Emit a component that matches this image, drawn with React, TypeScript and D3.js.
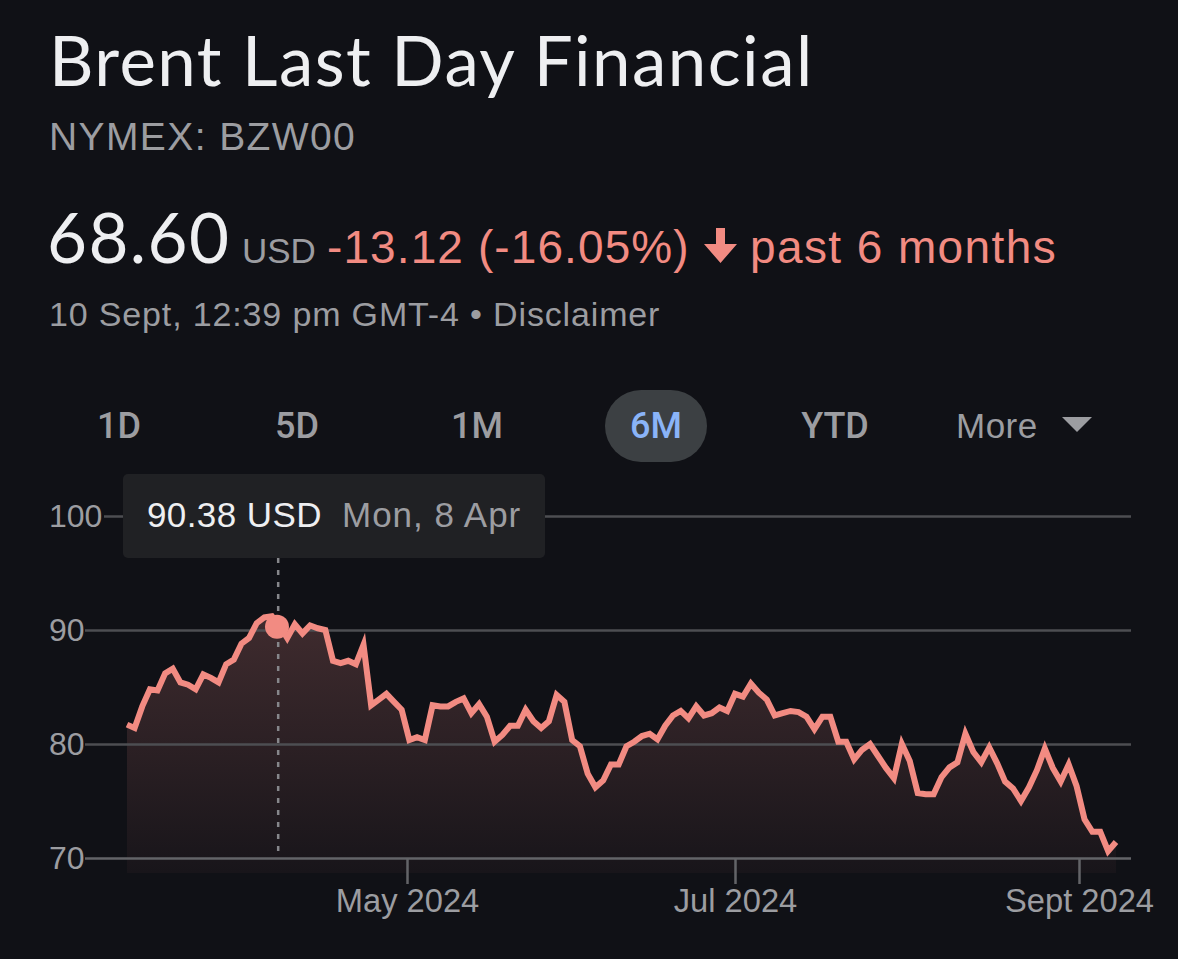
import { useEffect, useRef } from "react";
import * as d3 from "d3";

// closing prices, one per trading day
const prices = [
  81.7, 81.4, 83.3, 84.8, 84.7, 86.2, 86.6, 85.4, 85.2, 84.8,
  86.1, 85.8, 85.4, 87.0, 87.4, 88.8, 89.3, 90.6, 91.1, 91.2,
  90.38, 89.3, 90.5, 89.7, 90.4, 90.15, 90.0, 87.3, 87.1, 87.3,
  87.0, 88.7, 83.4, 83.9, 84.4, 83.7, 83.0, 80.35, 80.6, 80.35,
  83.4, 83.3, 83.3, 83.7, 84.0, 82.7, 83.5, 82.4, 80.2, 80.8,
  81.6, 81.6, 83.0, 82.0, 81.4, 82.0, 84.3, 83.7, 80.35, 79.8,
  77.4, 76.2, 76.8, 78.2, 78.2, 79.8, 80.2, 80.7, 80.9, 80.4,
  81.6, 82.5, 82.9, 82.25, 83.3, 82.5, 82.7, 83.2, 82.9, 84.4,
  84.15, 85.3, 84.5, 83.9, 82.5, 82.7, 82.9, 82.8, 82.4, 81.3,
  82.4, 82.4, 80.2, 80.2, 78.65, 79.5, 80.0, 78.95, 77.9, 77.0,
  80.0, 78.5, 75.7, 75.6, 75.6, 77.1, 77.95, 78.4, 80.9, 79.3,
  78.4, 79.7, 78.3, 76.7, 76.1, 75.0, 76.2, 77.7, 79.6, 77.9,
  76.7, 78.2, 76.3, 73.4, 72.3, 72.3, 70.6, 71.4,
];
const yTicks = [70, 80, 90, 100];
const xTickLabels = ["May 2024", "Jul 2024", "Sept 2024"];
const xTickIndex = [36.7, 79, 122.3];
const ranges = ["1D", "5D", "1M", "6M", "YTD"];
const rangeCentres = [119, 297, 477, 656, 835];
const hoverIndex = 20;

const SANS = "'Liberation Sans', Arial, sans-serif";
const HEAD = "Lato, sans-serif";
const RED = "#f28b82";
const GREY = "#9c9da1";
const WHITE = "#eeeff1";

export default function App() {
  const ref = useRef<SVGGElement>(null);

  useEffect(() => {
    if (!ref.current) return;
    const g = d3.select(ref.current);
    g.selectAll("*").remove();

    // spacing of the trading days drifts a little, so pin the scale on the ticks
    const last = prices.length - 1;
    const x = d3
      .scaleLinear()
      .domain([0, xTickIndex[0], xTickIndex[1], xTickIndex[2], last])
      .range([127, 407, 735, 1079, 1116]);
    const y = d3.scaleLinear().domain([70, 100]).range([858, 516]);

    const area = d3
      .area<number>()
      .x((_, i) => x(i))
      .y0(873)
      .y1((d) => y(d));
    const line = d3
      .line<number>()
      .x((_, i) => x(i))
      .y((d) => y(d));

    g.append("path").attr("d", area(prices)).attr("fill", "url(#fade)");

    // Y axis doubles as the grid, each line starts just after its label
    const yAxis = g
      .append("g")
      .attr("transform", "translate(1131,0)")
      .call(d3.axisLeft(y).tickValues(yTicks).tickSize(0).tickFormat((v) => String(v)));
    yAxis.select(".domain").remove();
    yAxis
      .selectAll(".tick line")
      .attr("x2", (d) => (d === 100 ? -1027 : -1046))
      .attr("stroke", (d) => (d === 70 ? "#636468" : "#4d4e52"))
      .attr("stroke-width", 2.5);
    yAxis
      .selectAll("text")
      .attr("x", -1082)
      .attr("text-anchor", "start")
      .attr("fill", GREY)
      .style("font-family", SANS)
      .style("font-size", "32px");

    // X axis
    const xAxis = g
      .append("g")
      .attr("transform", "translate(0,858)")
      .call(
        d3
          .axisBottom(x)
          .tickValues(xTickIndex)
          .tickSize(26)
          .tickPadding(4.6)
          .tickFormat((_, i) => xTickLabels[i])
      );
    xAxis.select(".domain").remove();
    xAxis.selectAll(".tick line").attr("stroke", "#636468").attr("stroke-width", 2.5);
    xAxis
      .selectAll("text")
      .attr("fill", GREY)
      .style("font-family", SANS)
      .style("font-size", "32.7px");

    g.append("line")
      .attr("x1", x(hoverIndex) - 1.4)
      .attr("x2", x(hoverIndex) - 1.4)
      .attr("y1", 558)
      .attr("y2", 856)
      .attr("stroke", "#86878b")
      .attr("stroke-width", 2.5)
      .attr("stroke-dasharray", "5 7");

    g.append("path")
      .attr("d", line(prices))
      .attr("fill", "none")
      .attr("stroke", RED)
      .attr("stroke-width", 6)
      .attr("stroke-linejoin", "miter")
      .attr("stroke-miterlimit", 6);

    g.append("circle")
      .attr("cx", x(hoverIndex) - 2.6)
      .attr("cy", y(prices[hoverIndex]) + 1)
      .attr("r", 12)
      .attr("fill", RED);
  }, []);

  return (
    <svg
      width={1178}
      height={959}
      style={{ position: "absolute", left: 0, top: 0, display: "block" }}
    >
      <defs>
        <linearGradient id="fade" gradientUnits="userSpaceOnUse" x1="0" x2="0" y1="620" y2="873">
          <stop offset="0%" stopColor="#3f2b2e" />
          <stop offset="100%" stopColor="#18151a" />
        </linearGradient>
      </defs>
      <rect width={1178} height={959} fill="#101116" />

      <text x={49} y={86} fontFamily={HEAD} fontSize={69} letterSpacing={1.45} fill={WHITE}>
        Brent Last Day Financial
      </text>
      <text x={49} y={150} fontFamily={SANS} fontSize={39} letterSpacing={1.4} fill={GREY}>
        NYMEX: BZW00
      </text>

      <text x={47} y={263} fontFamily={HEAD} fontSize={69} letterSpacing={1.4} fill={WHITE}>
        68.60
      </text>
      <text x={242} y={263} fontFamily={SANS} fontSize={35} fill={GREY}>
        USD
      </text>
      <text x={327} y={263} fontFamily={SANS} fontSize={46} letterSpacing={1.1} fill={RED}>
        -13.12 (-16.05%)
      </text>
      <path d="M716 228h9v16h12l-16.5 19-16.5-19h12z" fill={RED} />
      <text x={750} y={263} fontFamily={SANS} fontSize={46} letterSpacing={1.4} fill={RED}>
        past 6 months
      </text>
      <text x={49} y={326} fontFamily={SANS} fontSize={34} letterSpacing={0.85} fill={GREY}>
        10 Sept, 12:39 pm GMT-4 • Disclaimer
      </text>

      <rect x={605} y={390} width={102} height={72} rx={36} fill="#3c4043" />
      {ranges.map((r, i) => (
        <text
          key={r}
          x={rangeCentres[i]}
          y={438}
          textAnchor="middle"
          fontFamily="Roboto, sans-serif"
          fontSize={36}
          fontWeight={500}
          fill={r === "6M" ? "#8ab4f8" : GREY}
        >
          {r}
        </text>
      ))}
      <text x={956} y={438} fontFamily={SANS} fontSize={35} letterSpacing={0.5} fill={GREY}>
        More
      </text>
      <path d="M1062 417h30l-15 15z" fill={GREY} />

      <g ref={ref} />

      <rect x={123} y={474} width={422} height={84} rx={5} fill="#202124" />
      <text x={147} y={527} fontFamily={SANS} fontSize={35} letterSpacing={0.4} fill={WHITE}>
        90.38 USD
      </text>
      <text x={342} y={527} fontFamily={SANS} fontSize={35} letterSpacing={1} fill={GREY}>
        Mon, 8 Apr
      </text>
    </svg>
  );
}
